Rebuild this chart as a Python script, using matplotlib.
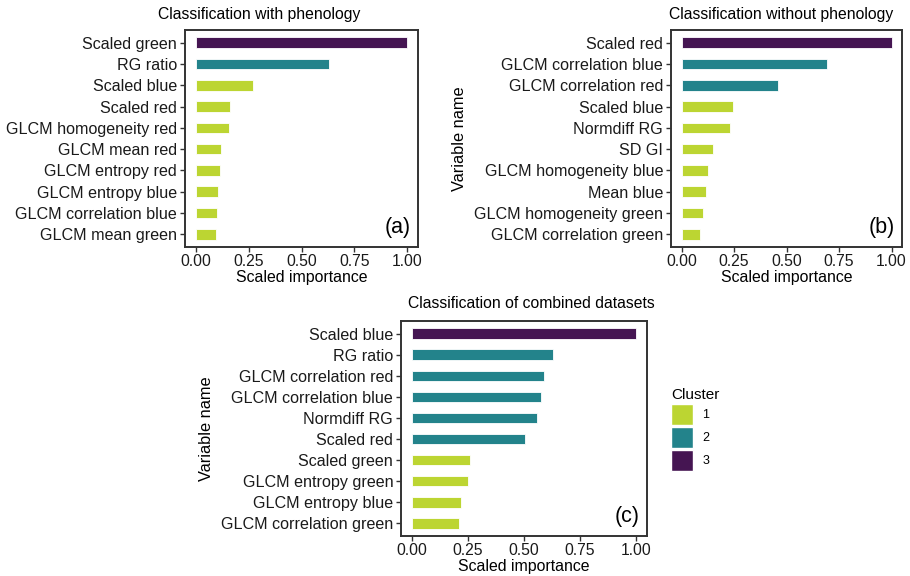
import matplotlib
matplotlib.use("Agg")
import matplotlib.pyplot as plt
from matplotlib.patches import Patch

plt.rcParams['font.family'] = ['Liberation Sans', 'DejaVu Sans']

# panel (a): with phenology (top to bottom)
names_a = ["Scaled green", "RG ratio", "Scaled blue", "Scaled red",
           "GLCM homogeneity red", "GLCM mean red", "GLCM entropy red",
           "GLCM entropy blue", "GLCM correlation blue", "GLCM mean green"]
vals_a = [1.0, 0.628, 0.273, 0.163, 0.157, 0.119, 0.116, 0.107, 0.099, 0.097]
clus_a = [3, 2, 1, 1, 1, 1, 1, 1, 1, 1]

# panel (b): without phenology
names_b = ["Scaled red", "GLCM correlation blue", "GLCM correlation red",
           "Scaled blue", "Normdiff RG", "SD GI", "GLCM homogeneity blue",
           "Mean blue", "GLCM homogeneity green", "GLCM correlation green"]
vals_b = [1.0, 0.693, 0.459, 0.244, 0.229, 0.152, 0.127, 0.116, 0.104, 0.089]
clus_b = [3, 2, 2, 1, 1, 1, 1, 1, 1, 1]

# panel (c): combined
names_c = ["Scaled blue", "RG ratio", "GLCM correlation red",
           "GLCM correlation blue", "Normdiff RG", "Scaled red", "Scaled green",
           "GLCM entropy green", "GLCM entropy blue", "GLCM correlation green"]
vals_c = [1.0, 0.629, 0.590, 0.577, 0.560, 0.505, 0.258, 0.249, 0.218, 0.209]
clus_c = [3, 2, 2, 2, 2, 2, 1, 1, 1, 1]

colors = {1: "#bcd532", 2: "#23838b", 3: "#451552"}
xticks = [0.0, 0.25, 0.5, 0.75, 1.0]
xtick_labels = ["0.00", "0.25", "0.50", "0.75", "1.00"]

W, H = 910, 576
fig = plt.figure(figsize=(9.1, 5.76), dpi=100)


def px_axes(l, t, r, b):
    return fig.add_axes([l / W, 1 - b / H, (r - l) / W, (b - t) / H])


def panel(ax, names, vals, clus, tag, ylabel=None):
    n = len(names)
    ypos = list(range(n - 1, -1, -1))
    ax.barh(ypos, vals, height=0.5, color=[colors[c] for c in clus],
            edgecolor="white", linewidth=0.6)
    ax.set_xlim(-0.05, 1.05)
    ax.set_ylim(-0.6, n - 0.4)
    ax.set_yticks(ypos)
    ax.set_yticklabels(names, fontsize=11.6, color="#1a1a1a")
    ax.set_xticks(xticks)
    ax.set_xticklabels(xtick_labels, fontsize=11.3, color="#1a1a1a")
    ax.tick_params(length=3.6, width=1, color="#333333", pad=2)
    ax.tick_params(axis="x", pad=1.5)
    for s in ax.spines.values():
        s.set_color("#333333")
        s.set_linewidth(1.4)
    ax.set_xlabel("Scaled importance", fontsize=11.4, labelpad=0.5)
    if ylabel:
        ax.set_ylabel(ylabel, fontsize=11.8, labelpad=5)
    ax.text(0.97, 0.04, tag, transform=ax.transAxes, ha="right", va="bottom",
            fontsize=15.5)


ax_a = px_axes(185, 30, 418, 247)
panel(ax_a, names_a, vals_a, clus_a, "(a)")
ax_b = px_axes(671, 30, 902, 247)
panel(ax_b, names_b, vals_b, clus_b, "(b)", "Variable name")
ax_c = px_axes(401, 321, 647, 536)
panel(ax_c, names_c, vals_c, clus_c, "(c)", "Variable name")

fig.text(259 / W, 1 - 15 / H, "Classification with phenology", ha="center",
         va="center", fontsize=11.3)
fig.text(781 / W, 1 - 15 / H, "Classification without phenology", ha="center",
         va="center", fontsize=11.3)
fig.text(531 / W, 1 - 304 / H, "Classification of combined datasets",
         ha="center", va="center", fontsize=11.3)

handles = [Patch(facecolor=colors[k], edgecolor="white", label=str(k))
           for k in (1, 2, 3)]
leg = fig.legend(handles=handles, title="Cluster", loc="upper left",
                 bbox_to_anchor=(660 / W, 1 - 377 / H), frameon=False,
                 fontsize=9, title_fontsize=11, handlelength=1.7,
                 handleheight=2.3, labelspacing=0.1, handletextpad=0.8)
leg._legend_box.align = "left"

fig.savefig("out.png", dpi=100)
